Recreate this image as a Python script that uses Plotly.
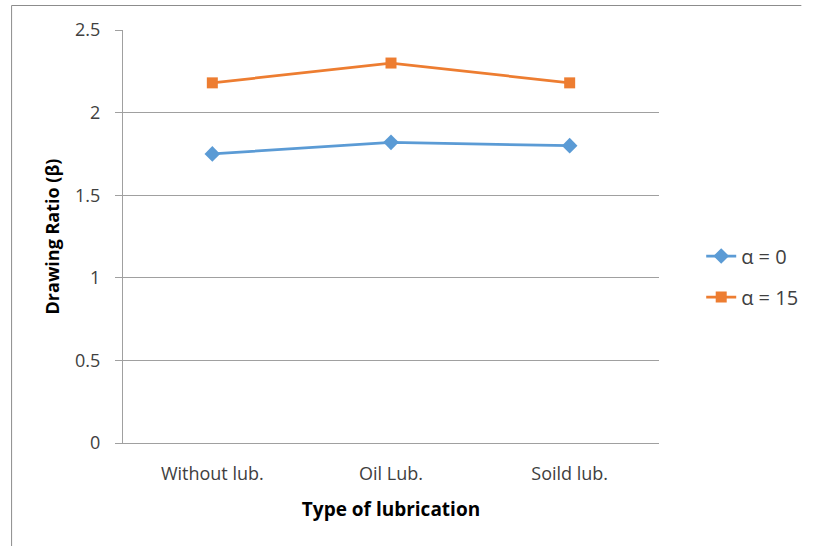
import plotly.graph_objects as go

categories = ["Without lub.", "Oil Lub.", "Soild lub."]
alpha0 = [1.75, 1.82, 1.80]
alpha15 = [2.18, 2.30, 2.18]
series_names = ["α = 0", "α = 15"]
y_ticks = [0, 0.5, 1, 1.5, 2, 2.5]

W, H = 815, 546
L, R, T, B = 123, 669, 30, 443  # plot area in px

def px_x(p):
    return (p - L) / (R - L)

def px_y(p):
    return (B - p) / (B - T)

FONT = "Open Sans"

fig = go.Figure()
fig.add_trace(go.Scatter(
    x=categories, y=alpha0, name=series_names[0], mode="lines+markers",
    line=dict(color="#5B9BD5", width=2.75),
    marker=dict(symbol="diamond", size=12, color="#5B9BD5"),
    legend="legend", showlegend=True,
))
fig.add_trace(go.Scatter(
    x=categories, y=alpha15, name=series_names[1], mode="lines+markers",
    line=dict(color="#ED7D31", width=2.75),
    marker=dict(symbol="square", size=11, color="#ED7D31"),
    legend="legend2", showlegend=True,
))

legend_common = dict(
    xanchor="left", yanchor="middle", bgcolor="rgba(0,0,0,0)",
    font=dict(family=FONT, size=20, color="#404040"),
)
fig.update_layout(
    width=W, height=H, showlegend=True,
    margin=dict(l=L, r=W - R, t=T, b=H - B, pad=0),
    paper_bgcolor="white", plot_bgcolor="white",
    font=dict(family=FONT, size=18, color="#404040"),
    legend=dict(x=px_x(712), y=px_y(256), **legend_common),
    legend2=dict(x=px_x(712), y=px_y(297), **legend_common),
    xaxis=dict(
        type="category", range=[-0.5, 2.5],
        showline=True, linecolor="#a0a0a0", linewidth=1,
        showgrid=False, ticks="", ticklabelstandoff=14,
        tickfont=dict(family=FONT, size=18, color="#404040"),
        title=dict(text="<b>Type of lubrication</b>", standoff=19,
                   font=dict(family=FONT, size=19, color="#000000")),
    ),
    yaxis=dict(
        range=[0, 2.5], tickvals=y_ticks,
        showline=True, linecolor="#a0a0a0", linewidth=1,
        showgrid=True, gridcolor="#a0a0a0", gridwidth=1,
        zeroline=False,
        ticks="outside", ticklen=7, tickcolor="#a0a0a0",
        ticklabelstandoff=11,
        tickfont=dict(family=FONT, size=18, color="#404040"),
        title=dict(text="<b>Drawing Ratio (β)</b>", standoff=10,
                   font=dict(family=FONT, size=18, color="#000000")),
    ),
    shapes=[
        dict(type="line", xref="paper", yref="paper",
             x0=px_x(9.5), x1=px_x(814), y0=px_y(5.5), y1=px_y(5.5),
             line=dict(color="#8c8c8c", width=1), layer="below"),
        dict(type="line", xref="paper", yref="paper",
             x0=px_x(9.5), x1=px_x(9.5), y0=px_y(5.5), y1=px_y(560),
             line=dict(color="#8c8c8c", width=1), layer="below"),
    ],
)

fig.write_html(
    "out.html",
    config={"displayModeBar": False},
    post_script="document.body.style.margin='0';document.body.style.overflow='hidden';",
)
